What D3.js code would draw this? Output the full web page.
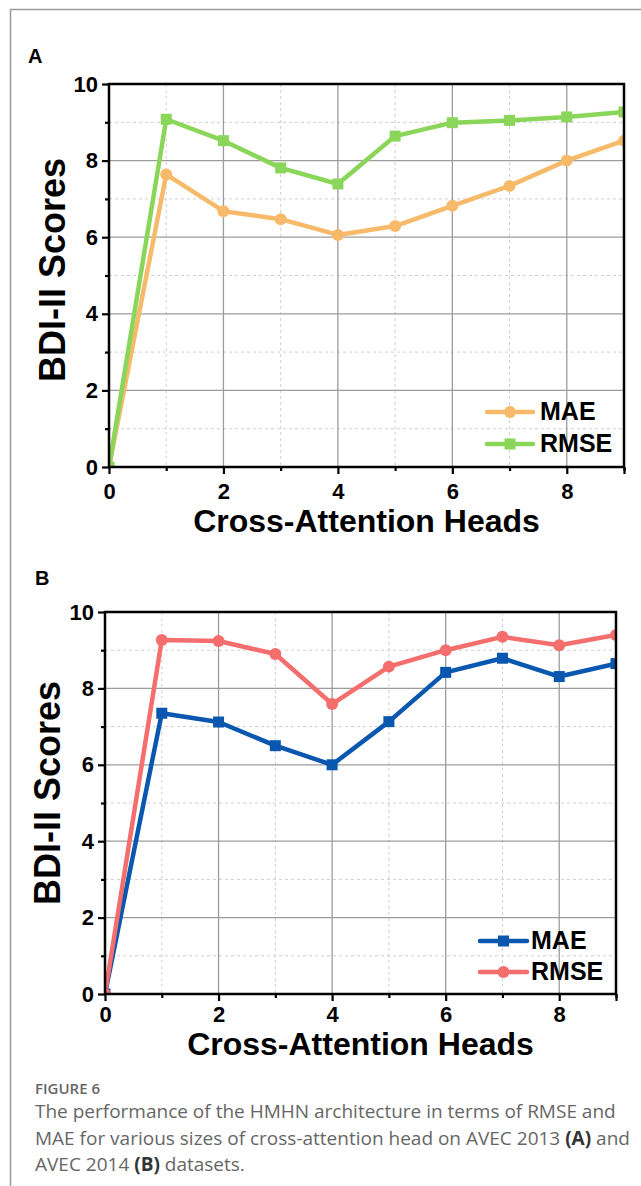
<!DOCTYPE html>
<html>
<head>
<meta charset="utf-8">
<script src="https://cdn.jsdelivr.net/npm/d3@7"></script>
<style>
  html, body { margin: 0; padding: 0; background: #fff; }
  svg { display: block; }
</style>
</head>
<body>
<div id="chart"></div>
<script>
// valores
var heads = [0, 1, 2, 3, 4, 5, 6, 7, 8, 9];
var maeA  = [0, 7.64, 6.68, 6.47, 6.06, 6.29, 6.82, 7.34, 8.00, 8.52];
var rmseA = [0, 9.08, 8.52, 7.81, 7.39, 8.64, 8.99, 9.05, 9.14, 9.27];
var maeB  = [0, 7.35, 7.12, 6.50, 6.00, 7.13, 8.42, 8.79, 8.31, 8.65];
var rmseB = [0, 9.27, 9.24, 8.90, 7.59, 8.57, 9.00, 9.35, 9.13, 9.40];
var yTicks = [0, 2, 4, 6, 8, 10];
var yMinor = [1, 3, 5, 7, 9];
var xTicks = [0, 2, 4, 6, 8];
var xMinor = [1, 3, 5, 7, 9];
var seriesNames = ['MAE', 'RMSE'];

var chart_width = 641;
var chart_height = 1186;
var font = 'Liberation Sans, Arial, sans-serif';

var svg = d3.select('#chart')
    .append('svg')
    .attr('width', chart_width)
    .attr('height', chart_height);

// moldura cinza
svg.append('path')
    .attr('d', 'M10.5,' + chart_height + ' V9.5 H' + chart_width)
    .attr('fill', 'none')
    .attr('stroke', '#9a9a9a')
    .attr('stroke-width', 1.5);

var panels = [
    {
        id: 'A', left: 109, right: 624, top: 84, bottom: 467,
        labelX: 28, labelY: 63,
        yTitleX: 65, yTitleY: 270, xTitleY: 532, xTickPad: 9,
        series: [
            { name: seriesNames[0], values: maeA, color: '#f6ba6a', marker: 'circle' },
            { name: seriesNames[1], values: rmseA, color: '#8ad65a', marker: 'square' }
        ],
        legend: { x1: 487, x2: 533, y: 412, dy: 32, textX: 540 }
    },
    {
        id: 'B', left: 105, right: 616, top: 612, bottom: 994,
        labelX: 35, labelY: 585,
        yTitleX: 60, yTitleY: 793, xTitleY: 1055, xTickPad: 5,
        series: [
            { name: seriesNames[0], values: maeB, color: '#0a57b0', marker: 'square' },
            { name: seriesNames[1], values: rmseB, color: '#f46e6e', marker: 'circle' }
        ],
        legend: { x1: 480, x2: 527, y: 941, dy: 31, textX: 531 }
    }
];

function drawMarker(g, type, x, y, color) {
    if (type === 'circle') {
        g.append('circle')
            .attr('cx', x).attr('cy', y).attr('r', 6)
            .attr('fill', color);
    } else {
        g.append('rect')
            .attr('x', x - 5.5).attr('y', y - 5.5)
            .attr('width', 11).attr('height', 11)
            .attr('fill', color);
    }
}

panels.forEach(function (p) {
    var x_scale = d3.scaleLinear().domain([0, 9]).range([p.left, p.right]);
    var y_scale = d3.scaleLinear().domain([0, 10]).range([p.bottom, p.top]);
    var g = svg.append('g');

    // grade menor tracejada
    g.selectAll('.vminor').data(xMinor).enter().append('line')
        .attr('x1', function (d) { return x_scale(d); })
        .attr('x2', function (d) { return x_scale(d); })
        .attr('y1', p.top).attr('y2', p.bottom)
        .attr('stroke', '#cfcfcf').attr('stroke-width', 1)
        .attr('stroke-dasharray', '3,3');
    g.selectAll('.hminor').data(yMinor).enter().append('line')
        .attr('y1', function (d) { return y_scale(d); })
        .attr('y2', function (d) { return y_scale(d); })
        .attr('x1', p.left).attr('x2', p.right)
        .attr('stroke', '#cfcfcf').attr('stroke-width', 1)
        .attr('stroke-dasharray', '3,3');

    // grade maior
    g.selectAll('.vmajor').data(xTicks.slice(1)).enter().append('line')
        .attr('x1', function (d) { return x_scale(d); })
        .attr('x2', function (d) { return x_scale(d); })
        .attr('y1', p.top).attr('y2', p.bottom)
        .attr('stroke', '#9c9c9c').attr('stroke-width', 1.3);
    g.selectAll('.hmajor').data(yTicks.slice(1, -1)).enter().append('line')
        .attr('y1', function (d) { return y_scale(d); })
        .attr('y2', function (d) { return y_scale(d); })
        .attr('x1', p.left).attr('x2', p.right)
        .attr('stroke', '#9c9c9c').attr('stroke-width', 1.3);

    // clip
    var clipId = 'clip' + p.id;
    svg.append('clipPath').attr('id', clipId)
        .append('rect')
        .attr('x', p.left).attr('y', p.top)
        .attr('width', p.right - p.left).attr('height', p.bottom - p.top);

    var plot = g.append('g').attr('clip-path', 'url(#' + clipId + ')');
    var line = d3.line()
        .x(function (d, i) { return x_scale(heads[i]); })
        .y(function (d) { return y_scale(d); });

    p.series.forEach(function (s) {
        plot.append('path')
            .datum(s.values)
            .attr('d', line)
            .attr('fill', 'none')
            .attr('stroke', s.color)
            .attr('stroke-width', 4.5)
            .attr('stroke-linejoin', 'round');
    });
    p.series.forEach(function (s) {
        s.values.forEach(function (v, i) {
            drawMarker(plot, s.marker, x_scale(heads[i]), y_scale(v), s.color);
        });
    });

    // caixa
    g.append('rect')
        .attr('x', p.left).attr('y', p.top)
        .attr('width', p.right - p.left).attr('height', p.bottom - p.top)
        .attr('fill', 'none').attr('stroke', '#000').attr('stroke-width', 2.5);

    // eixos
    g.append('g')
        .attr('transform', 'translate(' + p.left + ',0)')
        .call(d3.axisLeft(y_scale).tickValues(yTicks).tickSize(7).tickPadding(4));
    g.append('g')
        .attr('transform', 'translate(' + p.left + ',0)')
        .call(d3.axisLeft(y_scale).tickValues(yMinor).tickSize(4).tickFormat(''));
    g.append('g')
        .attr('transform', 'translate(0,' + p.bottom + ')')
        .call(d3.axisBottom(x_scale).tickValues(xTicks.concat([9])).tickSize(7).tickPadding(p.xTickPad)
            .tickFormat(function (d) { return d === 9 ? '' : d; }));
    g.append('g')
        .attr('transform', 'translate(0,' + p.bottom + ')')
        .call(d3.axisBottom(x_scale).tickValues(xMinor).tickSize(4).tickFormat(''));

    g.selectAll('.domain').remove();
    g.selectAll('.tick line').attr('stroke', '#000').attr('stroke-width', 2.2);
    g.selectAll('.tick text')
        .attr('font-family', font)
        .attr('font-weight', 'bold')
        .attr('font-size', 22)
        .attr('fill', '#000');

    // titulos
    g.append('text')
        .attr('transform', 'translate(' + p.yTitleX + ',' + p.yTitleY + ') rotate(-90)')
        .attr('text-anchor', 'middle')
        .attr('font-family', font).attr('font-weight', 'bold').attr('font-size', 36)
        .text('BDI-II Scores');
    g.append('text')
        .attr('x', (p.left + p.right) / 2).attr('y', p.xTitleY)
        .attr('text-anchor', 'middle')
        .attr('font-family', font).attr('font-weight', 'bold').attr('font-size', 32)
        .text('Cross-Attention Heads');
    g.append('text')
        .attr('x', p.labelX).attr('y', p.labelY)
        .attr('font-family', font).attr('font-weight', 'bold').attr('font-size', 20)
        .text(p.id);

    // legenda
    p.series.forEach(function (s, i) {
        var ly = p.legend.y + i * p.legend.dy;
        g.append('line')
            .attr('x1', p.legend.x1).attr('x2', p.legend.x2)
            .attr('y1', ly).attr('y2', ly)
            .attr('stroke', s.color).attr('stroke-width', 4.5)
            .attr('stroke-linecap', 'round');
        drawMarker(g, s.marker, (p.legend.x1 + p.legend.x2) / 2, ly, s.color);
        g.append('text')
            .attr('x', p.legend.textX).attr('y', ly + 8)
            .attr('font-family', font).attr('font-weight', 'bold').attr('font-size', 25)
            .text(s.name);
    });
});

// legenda da figura
var cap = svg.append('g')
    .attr('font-family', 'Open Sans, Noto Sans, sans-serif')
    .attr('fill', '#666');
cap.append('text')
    .attr('x', 35).attr('y', 1094)
    .attr('font-size', 15).attr('font-weight', 600)
    .text('FIGURE 6');
var capLines = [
    [['The performance of the HMHN architecture in terms of RMSE and', false]],
    [['MAE for various sizes of cross-attention head on AVEC 2013 ', false], ['(A)', true], [' and', false]],
    [['AVEC 2014 ', false], ['(B)', true], [' datasets.', false]]
];
capLines.forEach(function (parts, i) {
    var t = cap.append('text')
        .attr('x', 35).attr('y', 1118 + i * 26.5)
        .attr('font-size', 19);
    parts.forEach(function (part) {
        t.append('tspan')
            .attr('font-weight', part[1] ? 'bold' : 'normal')
            .attr('fill', part[1] ? '#333' : '#666')
            .text(part[0]);
    });
});
</script>
</body>
</html>
